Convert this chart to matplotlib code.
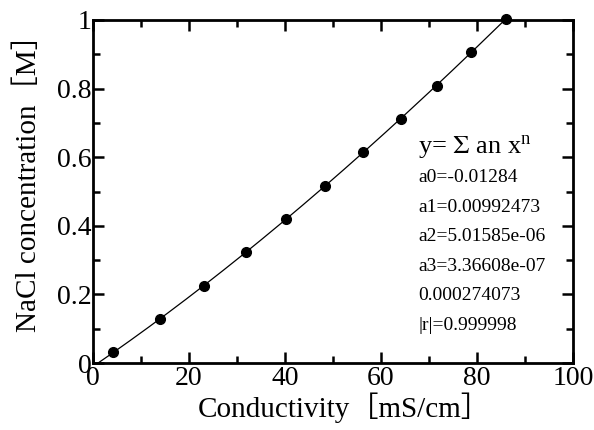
import matplotlib
matplotlib.use("Agg")
from matplotlib import pyplot as plt
from matplotlib.ticker import MultipleLocator
import numpy as np

# conductivity [mS/cm] vs NaCl concentration [M]
conductivity = [4.2, 13.9, 23.1, 31.9, 40.2, 48.3, 56.3, 64.1, 71.6, 78.8, 86.0]
concentration = [0.031, 0.128, 0.225, 0.323, 0.420, 0.517, 0.615, 0.711, 0.808, 0.907, 1.003]

fit_lines = ["a0=-0.01284", "a1=0.00992473", "a2=5.01585e-06",
             "a3=3.36608e-07", "0.000274073", "|r|=0.999998"]

plt.rcParams['font.family'] = ['Liberation Serif', 'Noto Sans CJK JP']
plt.rcParams['mathtext.fontset'] = 'stix'

W, H = 594, 430
fig = plt.figure(figsize=(W / 100, H / 100), dpi=100)
ax = fig.add_axes([0.1566, 0.1558, 0.808, 0.7977])

# cubic fit through the points, drawn as the line
coef = np.polyfit(conductivity, concentration, 3)
xs = np.linspace(0, conductivity[-1], 200)
ax.plot(xs, np.polyval(coef, xs), color="black", lw=0.9)
ax.plot(conductivity, concentration, "o", color="black", ms=7, clip_on=False)

ax.set_xlim(0, 100)
ax.set_ylim(0, 1)
ax.xaxis.set_major_locator(MultipleLocator(20))
ax.xaxis.set_minor_locator(MultipleLocator(10))
ax.yaxis.set_minor_locator(MultipleLocator(0.1))
ax.set_yticks([0, 0.2, 0.4, 0.6, 0.8, 1])
ax.set_yticklabels(["0", "0.2", "0.4", "0.6", "0.8", "1"])

for s in ax.spines.values():
    s.set_linewidth(2)
ax.tick_params(which="both", direction="in", top=True, right=True, width=1.8,
               labelsize=20)
ax.tick_params(which="major", length=8)
ax.tick_params(which="minor", length=5)
ax.tick_params(axis="x", pad=2)
ax.tick_params(axis="y", pad=1)

ax.set_xlabel("Conductivity［mS/cm］", fontsize=21, labelpad=1)
ax.set_ylabel("NaCl concentration［M］", fontsize=21, labelpad=11)
ax.xaxis.label.set_x(0.523)
ax.yaxis.label.set_y(0.544)

# fit summary, positioned in pixels from the top-left corner
fig.text(418 / W, 1 - 148 / H, r"y= $\Sigma$ an x$^\mathregular{n}$",
         fontsize=19, va="center", ha="left")
for i, line in enumerate(fit_lines):
    fig.text(418 / W, 1 - (178 + 29.5 * i) / H, line, fontsize=14,
             va="center", ha="left")

fig.savefig("out.png", dpi=100)
